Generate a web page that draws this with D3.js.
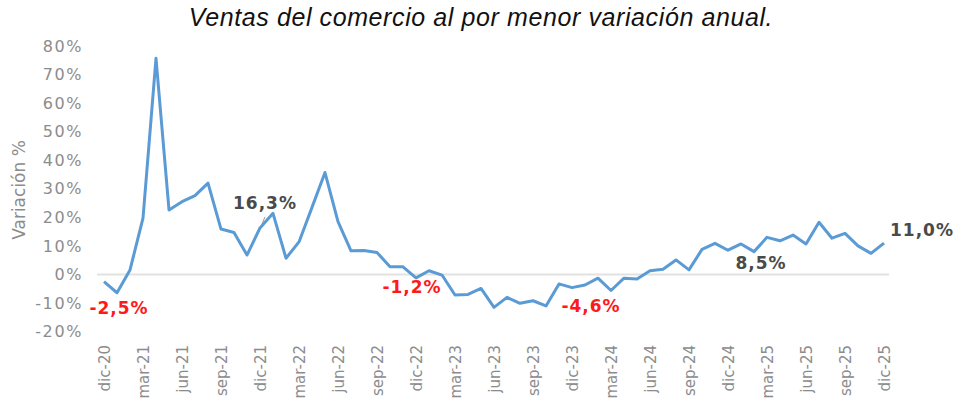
<!DOCTYPE html>
<html lang="es">
<head>
<meta charset="UTF-8">
<title>Ventas del comercio al por menor</title>
<style>
  body { margin: 0; background: #fff; }
  svg { display: block; }
</style>
</head>
<body>
<svg id="chart" width="957" height="406"></svg>
<script src="https://d3js.org/d3.v7.min.js"></script>
<script>
// meses (dic-20 a dic-25)
var meses = [
  "dic-20",
  "ene-21","feb-21","mar-21","abr-21","may-21","jun-21","jul-21","ago-21","sep-21","oct-21","nov-21","dic-21",
  "ene-22","feb-22","mar-22","abr-22","may-22","jun-22","jul-22","ago-22","sep-22","oct-22","nov-22","dic-22",
  "ene-23","feb-23","mar-23","abr-23","may-23","jun-23","jul-23","ago-23","sep-23","oct-23","nov-23","dic-23",
  "ene-24","feb-24","mar-24","abr-24","may-24","jun-24","jul-24","ago-24","sep-24","oct-24","nov-24","dic-24",
  "ene-25","feb-25","mar-25","abr-25","may-25","jun-25","jul-25","ago-25","sep-25","oct-25","nov-25","dic-25"
];

// variacion anual en %
var variacion = [
  -2.5,
  -6.4, 1.6, 19.7, 75.7, 22.6, 25.5, 27.6, 32.0, 15.9, 14.7, 6.8, 16.3,
  21.4, 5.7, 11.4, 23.5, 35.7, 18.5, 8.3, 8.4, 7.7, 2.7, 2.7, -1.2,
  1.3, -0.2, -7.2, -7.0, -4.9, -11.5, -8.0, -10.1, -9.2, -11.0, -3.3, -4.6,
  -3.7, -1.3, -5.6, -1.3, -1.6, 1.3, 1.8, 5.1, 1.6, 8.8, 10.9, 8.5,
  10.7, 8.0, 13.0, 11.8, 13.8, 10.7, 18.3, 12.7, 14.4, 10.0, 7.4, 11.0
];

var ticksY = [-20, -10, 0, 10, 20, 30, 40, 50, 60, 70, 80];
var ticksX = ["dic-20","mar-21","jun-21","sep-21","dic-21","mar-22","jun-22","sep-22","dic-22",
  "mar-23","jun-23","sep-23","dic-23","mar-24","jun-24","sep-24","dic-24","mar-25","jun-25","sep-25","dic-25"];

// etiquetas destacadas
var notasMes = ["dic-20", "dic-21", "dic-22", "dic-23", "dic-24", "dic-25"];
var notasTexto = ["-2,5%", "16,3%", "-1,2%", "-4,6%", "8,5%", "11,0%"];
var notasNegativa = [true, false, true, true, false, false];

var svg = d3.select("#chart");

var x = d3.scalePoint().domain(meses).range([104, 884]);
var y = d3.scaleLinear().domain([-20, 80]).range([331.6, 46]);

// titulo
svg.append("text")
  .attr("x", 481).attr("y", 26)
  .attr("text-anchor", "middle")
  .attr("font-family", "Liberation Sans, Arial, sans-serif")
  .attr("font-style", "italic")
  .attr("font-size", 25)
  .attr("letter-spacing", 0.6)
  .attr("fill", "#111")
  .text("Ventas del comercio al por menor variación anual.");

// eje y
var gy = svg.append("g").attr("transform", "translate(83,0)")
  .call(d3.axisLeft(y).tickValues(ticksY).tickSize(0).tickPadding(0)
    .tickFormat(function (d) { return d + "%"; }));
gy.select(".domain").remove();
gy.selectAll("text")
  .attr("font-family", "DejaVu Sans, Verdana, sans-serif")
  .attr("font-size", 16)
  .attr("letter-spacing", 1.6)
  .attr("fill", "#8c8c8c");

svg.append("text")
  .attr("transform", "translate(25,190) rotate(-90)")
  .attr("text-anchor", "middle")
  .attr("font-family", "DejaVu Sans, Verdana, sans-serif")
  .attr("font-size", 17)
  .attr("fill", "#8c8c8c")
  .text("Variación %");

// linea del cero
svg.append("line")
  .attr("x1", 97).attr("x2", 889)
  .attr("y1", y(0)).attr("y2", y(0))
  .attr("stroke", "#e2e2e2").attr("stroke-width", 2);

// eje x
var gx = svg.append("g").attr("transform", "translate(0,345)")
  .call(d3.axisBottom(x).tickValues(ticksX).tickSize(0).tickPadding(0));
gx.select(".domain").remove();
gx.selectAll("text")
  .attr("transform", "rotate(-90)")
  .attr("x", 0).attr("y", 0).attr("dy", "0.35em")
  .attr("text-anchor", "end")
  .attr("font-family", "DejaVu Sans, Verdana, sans-serif")
  .attr("font-size", 15)
  .attr("fill", "#8c8c8c");

// serie
var linea = d3.line()
  .x(function (d, i) { return x(meses[i]); })
  .y(function (d) { return y(d); });

svg.append("path")
  .datum(variacion)
  .attr("d", linea)
  .attr("fill", "none")
  .attr("stroke", "#5b9bd5")
  .attr("stroke-width", 3)
  .attr("stroke-linejoin", "round");

// posicion de las etiquetas respecto al punto
var desplaz = [[15, 26], [5, -25], [-4, 9], [19, 18], [33, 13], [38, -13]];

notasMes.forEach(function (m, k) {
  var i = meses.indexOf(m);
  var px = x(m), py = y(variacion[i]);
  svg.append("text")
    .attr("x", px + desplaz[k][0]).attr("y", py + desplaz[k][1])
    .attr("text-anchor", "middle")
    .attr("dy", "0.35em")
    .attr("font-family", "DejaVu Sans, Verdana, sans-serif")
    .attr("font-weight", "bold")
    .attr("font-size", 17)
    .attr("letter-spacing", 1)
    .attr("fill", notasNegativa[k] ? "#ff1a1a" : "#4a4a4a")
    .text(notasTexto[k]);
});

// guia de la etiqueta 16,3%
var i12 = meses.indexOf("dic-21");
svg.append("line")
  .attr("x1", x("dic-21") + 5).attr("y1", y(variacion[i12]) - 11)
  .attr("x2", x("dic-21") + 2).attr("y2", y(variacion[i12]) - 4)
  .attr("stroke", "#999").attr("stroke-width", 1);
</script>
</body>
</html>
